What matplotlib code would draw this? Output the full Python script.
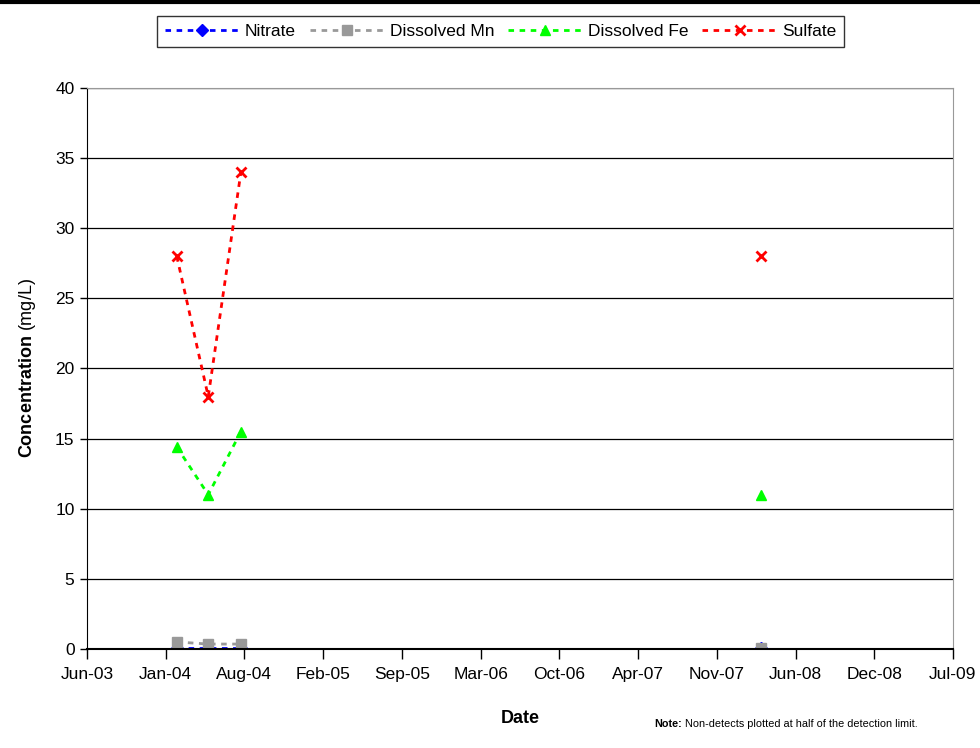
import numpy as np
import pandas as pd
import matplotlib
matplotlib.use("Agg")
import matplotlib.pyplot as plt
import matplotlib.dates as mdates
from matplotlib.lines import Line2D

plt.rcParams['font.family'] = ['Liberation Sans', 'DejaVu Sans']
plt.rcParams['mathtext.fontset'] = 'custom'
plt.rcParams['mathtext.rm'] = 'Liberation Sans'
plt.rcParams['mathtext.bf'] = 'Liberation Sans:bold'

# sample dates (the NaN row breaks the lines, like Excel gaps)
dates = pd.to_datetime(["2004-02-11", "2004-05-01", "2004-07-23", "2006-01-01", "2008-03-05"])
nitrate = [0.05, 0.05, 0.05, np.nan, 0.05]
diss_mn = [0.5, 0.35, 0.35, np.nan, 0.1]
diss_fe = [14.4, 11.0, 15.5, np.nan, 11.0]
sulfate = [28.0, 18.0, 34.0, np.nan, 28.0]

tick_start = pd.Timestamp("2003-06-28")
tick_step_days = 200
n_ticks = 12

fig = plt.figure(figsize=(9.8, 7.48), dpi=100)
ax = fig.add_axes([0.0888, 0.1324, 0.8836, 0.75])

series = [
    ("Nitrate", nitrate, "#0000ff", "D", 6),
    ("Dissolved Mn", diss_mn, "#999999", "s", 7),
    ("Dissolved Fe", diss_fe, "#00ff00", "^", 7),
    ("Sulfate", sulfate, "#ff0000", "x", 7),
]
for name, vals, col, mk, ms in series:
    ax.plot(dates, vals, linestyle=(0, (2, 2)), linewidth=2, color=col,
            marker=mk, markersize=ms, markeredgewidth=2 if mk == "x" else 1,
            markeredgecolor=col, markerfacecolor=col, label=name)

ticks = [tick_start + pd.Timedelta(days=tick_step_days * i) for i in range(n_ticks)]
ax.set_xlim(ticks[0], ticks[-1])
ax.set_xticks(ticks)
ax.xaxis.set_major_formatter(mdates.DateFormatter("%b-%y"))
ax.set_ylim(0, 40)
ax.set_yticks(range(0, 41, 5))
ax.yaxis.grid(True, color="black", linewidth=0.9)
ax.set_axisbelow(True)

ax.tick_params(axis="x", direction="out", length=7, width=1, labelsize=12.5, pad=6)
ax.tick_params(axis="y", direction="out", length=5, width=1, labelsize=12.5, pad=4)

for s in ["top", "right"]:
    ax.spines[s].set_color("#999999")
ax.spines["left"].set_color("black")
ax.spines["bottom"].set_color("black")
ax.spines["bottom"].set_linewidth(1.5)

ax.set_ylabel(r"$\bf{Concentration}$ (mg/L)", fontsize=13, labelpad=12)
ax.set_xlabel("Date", fontsize=13, fontweight="bold", labelpad=20)

leg = fig.legend(loc="upper center", bbox_to_anchor=(0.511, 0.978), ncol=4,
                 fontsize=12.5, frameon=True, fancybox=False, edgecolor="black",
                 handlelength=4.3, columnspacing=0.8, handletextpad=0.3,
                 borderpad=0.45, borderaxespad=0)
leg.get_frame().set_linewidth(1)

note = fig.text(0.668, 0.028, "Note:", fontsize=7.8, fontweight="bold")
ax.annotate(" Non-detects plotted at half of the detection limit.",
            xy=(1, 0), xycoords=note, fontsize=7.8, va="bottom", ha="left")

fig.add_artist(Line2D([0, 1], [0.997, 0.997], color="black", linewidth=3,
                      transform=fig.transFigure))

fig.savefig("out.png", dpi=100)
